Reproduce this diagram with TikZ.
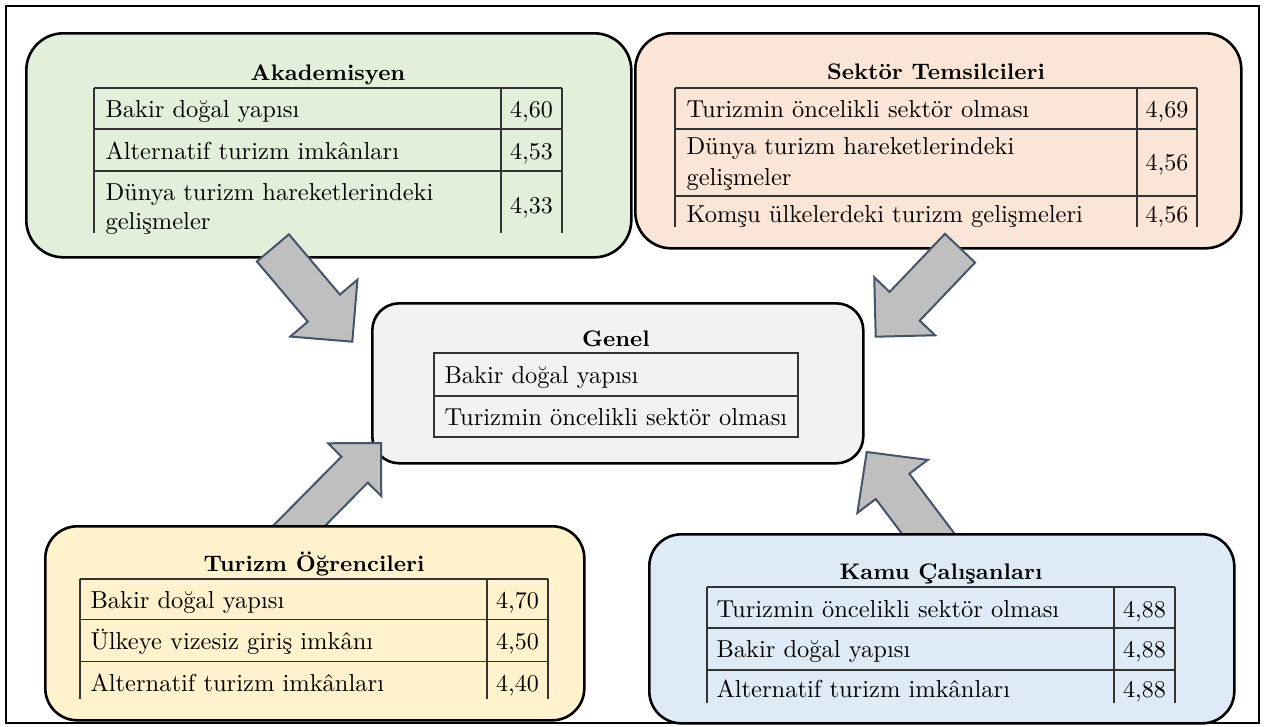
\documentclass[tikz,border=0pt]{standalone}
\usetikzlibrary{calc}
\definecolor{grn}{HTML}{E2EFDA}
\definecolor{pch}{HTML}{FBE5D6}
\definecolor{gry}{HTML}{F2F2F2}
\definecolor{ylw}{HTML}{FFF2CC}
\definecolor{blu}{HTML}{DEEBF7}
\definecolor{arrfill}{HTML}{BFBFBF}
\definecolor{arrline}{HTML}{44546A}
\definecolor{tblline}{HTML}{333333}
\newcommand\celfont{\fontsize{9.8}{12}\selectfont}
\newcommand\valfont{\fontsize{9.6}{12}\selectfont}
\newcommand\ttlfont{\fontsize{9}{11}\selectfont\bfseries}
% tail, tip, shaft half width, head half width, head length
\newcommand\blockarr[5]{%
  \coordinate (#1B) at ($(#2)!#5pt!(#1)$);
  \path[barrow] ($(#1)!#3pt!90:(#2)$) -- ($(#1B)!#3pt!90:(#2)$) -- ($(#1B)!#4pt!90:(#2)$)
     -- (#2) -- ($(#1B)!#4pt!-90:(#2)$) -- ($(#1B)!#3pt!-90:(#2)$) -- ($(#1)!#3pt!-90:(#2)$) -- cycle;}
\begin{document}
\begin{tikzpicture}[x=1pt,y=-1pt,
  panel/.style={draw=black, line width=2.6pt, anchor=north west, inner sep=0pt},
  tbl/.style={draw=tblline, line width=1.2pt},
  celltxt/.style={font=\celfont, anchor=base west, inner sep=0pt, scale=2.5, transform shape},
  valtxt/.style={font=\valfont, anchor=base, inner sep=0pt, scale=2.5, transform shape},
  ttl/.style={font=\ttlfont, anchor=base, inner sep=0pt, scale=2.5, transform shape},
  barrow/.style={fill=arrfill, draw=arrline, line width=2pt, line join=miter}]
\useasboundingbox (0,0) rectangle (1264,726);
\draw[line width=2pt] (6,6) rectangle (1259,723);

% ---------- Akademisyen ----------
\node[panel, fill=grn, rounded corners=37pt, minimum width=605pt, minimum height=224pt] (akad) at (25,32) {};
\node[ttl] (akadT) at (328,80) {Akademisyen};
\draw[tbl] (94,88) -- (562,88) (94,129) -- (562,129) (94,171) -- (562,171)
  (94,88) -- (94,233) (501,88) -- (501,233) (562,88) -- (562,233);
\node[celltxt] (a1) at (105,117) {Bakir doğal yapısı};
\node[valtxt] (a1v) at (531.5,117) {4,60};
\node[celltxt] (a2) at (105,159) {Alternatif turizm imkânları};
\node[valtxt] (a2v) at (531.5,159) {4,53};
\node[celltxt] (a3) at (105,200) {Dünya turizm hareketlerindeki};
\node[celltxt] (a3b) at (105,229) {gelişmeler};
\node[valtxt] (a3v) at (531.5,213) {4,33};

% ---------- Sektor Temsilcileri ----------
\node[panel, fill=pch, rounded corners=36pt, minimum width=606pt, minimum height=215pt] (sekt) at (634,32) {};
\node[ttl] (sektT) at (936,79) {Sektör Temsilcileri};
\draw[tbl] (675,88) -- (1197,88) (675,129) -- (1197,129) (675,196) -- (1197,196)
  (675,88) -- (675,227) (1137,88) -- (1137,227) (1197,88) -- (1197,227);
\node[celltxt] (s1) at (686,117) {Turizmin öncelikli sektör olması};
\node[valtxt] (s1v) at (1167,117) {4,69};
\node[celltxt] (s2) at (686,154) {Dünya turizm hareketlerindeki};
\node[celltxt] (s2b) at (686,185) {gelişmeler};
\node[valtxt] (s2v) at (1167,170) {4,56};
\node[celltxt] (s3) at (686,222.5) {Komşu ülkelerdeki turizm gelişmeleri};
\node[valtxt] (s3v) at (1167,222.5) {4,56};

% ---------- Genel ----------
\node[panel, fill=gry, rounded corners=27pt, minimum width=491pt, minimum height=160pt] (genel) at (371,302) {};
\node[ttl] (genelT) at (616,346) {Genel};
\draw[tbl] (434,353) rectangle (798,437) (434,396) -- (798,396);
\node[celltxt] (g1) at (444,383) {Bakir doğal yapısı};
\node[celltxt] (g2) at (444,425) {Turizmin öncelikli sektör olması};

% ---------- Arrows ----------
\coordinate (akT) at (272.9,247.9); \coordinate (akH) at (352.3,341.7);
\blockarr{akT}{akH}{21}{44}{44}
\coordinate (seT) at (960,248.2); \coordinate (seH) at (875.7,336.7);
\blockarr{seT}{seH}{20.8}{42}{42}
\coordinate (tuT) at (285,540); \coordinate (tuH) at (381,443);
\blockarr{tuT}{tuH}{18.5}{37.5}{37.5}
\coordinate (kaT) at (945,556); \coordinate (kaH) at (866.7,452);
\blockarr{kaT}{kaH}{21}{44}{43}

% ---------- Turizm Ogrencileri ----------
\node[panel, fill=ylw, rounded corners=32pt, minimum width=539pt, minimum height=194pt] (turz) at (44,525) {};
\node[ttl] (turzT) at (314,571) {Turizm Öğrencileri};
\draw[tbl] (80,579) -- (548,579) (80,619.5) -- (548,619.5) (80,661.5) -- (548,661.5)
  (80,579) -- (80,699) (487,579) -- (487,699) (548,579) -- (548,699);
\node[celltxt] (t1) at (90,608) {Bakir doğal yapısı};
\node[valtxt] (t1v) at (517.5,608) {4,70};
\node[celltxt] (t2) at (90,649) {Ülkeye vizesiz giriş imkânı};
\node[valtxt] (t2v) at (517.5,649) {4,50};
\node[celltxt] (t3) at (90,691) {Alternatif turizm imkânları};
\node[valtxt] (t3v) at (517.5,691) {4,40};

% ---------- Kamu Calisanlari ----------
\node[panel, fill=blu, rounded corners=32pt, minimum width=585pt, minimum height=189pt] (kamu) at (648,533) {};
\node[ttl] (kamuT) at (941,579) {Kamu Çalışanları};
\draw[tbl] (707,587) -- (1175,587) (707,628) -- (1175,628) (707,670) -- (1175,670)
  (707,587) -- (707,703) (1114,587) -- (1114,703) (1175,587) -- (1175,703);
\node[celltxt] (k1) at (716,617.5) {Turizmin öncelikli sektör olması};
\node[valtxt] (k1v) at (1144.5,617.5) {4,88};
\node[celltxt] (k2) at (716,657.5) {Bakir doğal yapısı};
\node[valtxt] (k2v) at (1144.5,657.5) {4,88};
\node[celltxt] (k3) at (716,697.5) {Alternatif turizm imkânları};
\node[valtxt] (k3v) at (1144.5,697.5) {4,88};
\end{tikzpicture}
\end{document}
